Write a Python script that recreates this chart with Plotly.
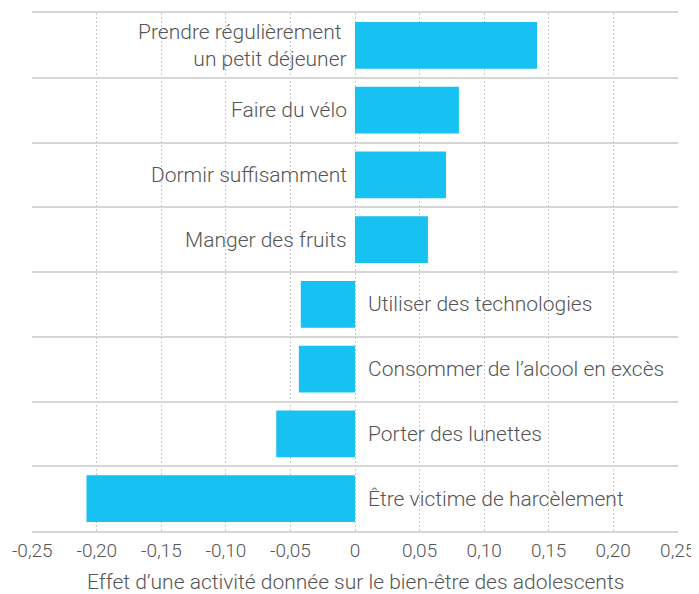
import plotly.graph_objects as go

categories = [
    "Prendre régulièrement\u00a0<br>un petit déjeuner",
    "Faire du vélo",
    "Dormir suffisamment",
    "Manger des fruits",
    "Utiliser des technologies",
    "Consommer de l’alcool en excès",
    "Porter des lunettes",
    "Être victime de harcèlement",
]
values = [0.141, 0.0805, 0.0705, 0.0565, -0.042, -0.0435, -0.061, -0.208]
tick_vals = [-0.25, -0.2, -0.15, -0.1, -0.05, 0, 0.05, 0.1, 0.15, 0.2, 0.25]
tick_text = ["-0,25", "-0,20", "-0,15", "-0,10", "-0,05", "0", "0,05", "0,10", "0,15", "0,20", "0,25"]
x_title = "Effet d’une activité donnée sur le bien-être des adolescents"

pos = list(range(len(categories)))
FONT = "Roboto"
TXT = "#555555"
FS = 21

fig = go.Figure(go.Bar(
    x=values, y=pos, orientation="h",
    marker=dict(color="#17c1f1", line=dict(width=0)),
    width=0.72, hoverinfo="skip",
))

for p, c, v in zip(pos, categories, values):
    if v >= 0:
        fig.add_annotation(x=0, y=p, text=c, showarrow=False, xanchor="right",
                           align="right", xshift=-6, yanchor="middle",
                           font=dict(family=FONT, size=FS, color=TXT, weight=300))
    else:
        fig.add_annotation(x=0, y=p, text=c, showarrow=False, xanchor="left",
                           align="left", xshift=11, yanchor="middle",
                           font=dict(family=FONT, size=FS, color=TXT, weight=300))

fig.add_annotation(x=0.5, xref="paper", y=0, yref="paper", yanchor="middle",
                   yshift=-51, text=x_title, showarrow=False,
                   font=dict(family=FONT, size=FS, color=TXT, weight=300))

fig.update_layout(
    width=691, height=586,
    margin=dict(l=24, r=21, t=5, b=63, autoexpand=False),
    paper_bgcolor="white", plot_bgcolor="white",
    showlegend=False,
    font=dict(family=FONT, size=FS, color=TXT, weight=300),
    xaxis=dict(
        range=[-0.2502, 0.2502], tickvals=tick_vals, ticktext=tick_text,
        automargin=False, ticklabeloverflow="allow",
        showgrid=True, gridcolor="#c8c8c8", griddash="2px,2px", gridwidth=1,
        zeroline=False, showline=True, mirror=True, linecolor="#d6d6d6", linewidth=2,
        ticks="", ticklabelstandoff=1,
        tickfont=dict(family=FONT, size=19, color=TXT, weight=300),
    ),
    yaxis=dict(
        range=[7.5, -0.5], tickvals=[p + 0.5 for p in pos[:-1]],
        showticklabels=False, ticks="", automargin=False,
        showgrid=True, gridcolor="#d6d6d6", gridwidth=2, zeroline=False,
        showline=False,
    ),
)

fig.write_html("out.html")
